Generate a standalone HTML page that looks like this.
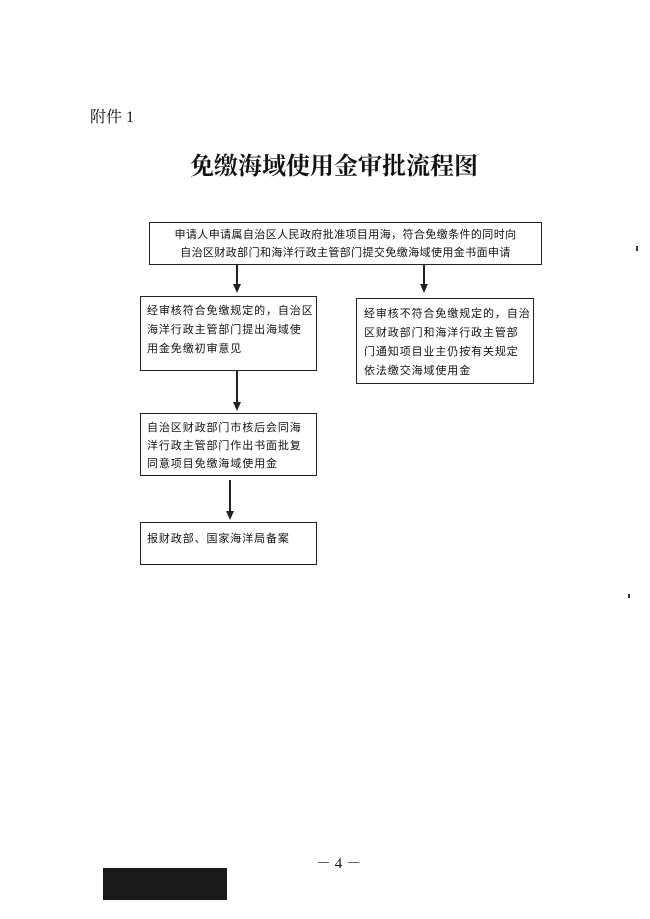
<!DOCTYPE html>
<html><head><meta charset="utf-8"><style>
body{margin:0;background:#fff;}
#p{position:relative;width:650px;height:919px;overflow:hidden;font-family:"Liberation Serif","Noto Serif CJK SC","Noto Sans CJK SC",serif;color:#111;}
.a{position:absolute;}
.box{position:absolute;border:1.5px solid #222;box-sizing:border-box;font-size:11px;font-family:"Liberation Sans","Noto Sans CJK SC",sans-serif;}
.l{position:absolute;background:#222;width:1.5px;}
.h{position:absolute;width:0;height:0;border-left:4px solid transparent;border-right:4px solid transparent;border-top:9px solid #222;}
</style></head><body><div id="p">
<div class="a" style="left:90px;top:104px;font-size:16px;">附件 1</div>
<div class="a" style="left:190px;top:146px;font-size:24px;font-weight:bold;font-family:'Noto Serif CJK SC',serif;letter-spacing:0px;">免缴海域使用金审批流程图</div>

<div class="box" style="left:149px;top:222px;width:393px;height:43px;text-align:center;line-height:18px;padding-top:3px;letter-spacing:0.4px;">申请人申请属自治区人民政府批准项目用海，符合免缴条件的同时向<br>自治区财政部门和海洋行政主管部门提交免缴海域使用金书面申请</div>

<div class="l" style="left:236px;top:265px;height:20px;"></div><div class="h" style="left:233px;top:284px;"></div>
<div class="l" style="left:423px;top:265px;height:20px;"></div><div class="h" style="left:420px;top:284px;"></div>

<div class="box" style="left:140px;top:296px;width:177px;height:75px;padding:5px 0 0 6px;line-height:19px;letter-spacing:0.9px;">经审核符合免缴规定的，自治区<br>海洋行政主管部门提出海域使<br>用金免缴初审意见</div>
<div class="box" style="left:356px;top:298px;width:178px;height:86px;padding:6px 0 0 7px;line-height:19px;letter-spacing:0.9px;">经审核不符合免缴规定的，自治<br>区财政部门和海洋行政主管部<br>门通知项目业主仍按有关规定<br>依法缴交海域使用金</div>

<div class="l" style="left:236px;top:371px;height:32px;"></div><div class="h" style="left:233px;top:402px;"></div>

<div class="box" style="left:140px;top:413px;width:177px;height:63px;padding:5px 0 0 6px;line-height:18px;letter-spacing:0.9px;">自治区财政部门市核后会同海<br>洋行政主管部门作出书面批复<br>同意项目免缴海域使用金</div>

<div class="l" style="left:229px;top:480px;height:32px;"></div><div class="h" style="left:226px;top:511px;"></div>

<div class="box" style="left:140px;top:522px;width:177px;height:43px;padding:7px 0 0 6px;line-height:18px;letter-spacing:0.9px;">报财政部、国家海洋局备案</div>

<div class="a" style="left:316px;top:852px;font-size:15px;">－ 4 －</div>
<div class="a" style="left:103px;top:868px;width:124px;height:32px;background:#1a1a1a;"></div>
<div class="a" style="left:636px;top:246px;width:2px;height:5px;background:#333;"></div>
<div class="a" style="left:628px;top:594px;width:2px;height:4px;background:#333;"></div>
</div></body></html>
